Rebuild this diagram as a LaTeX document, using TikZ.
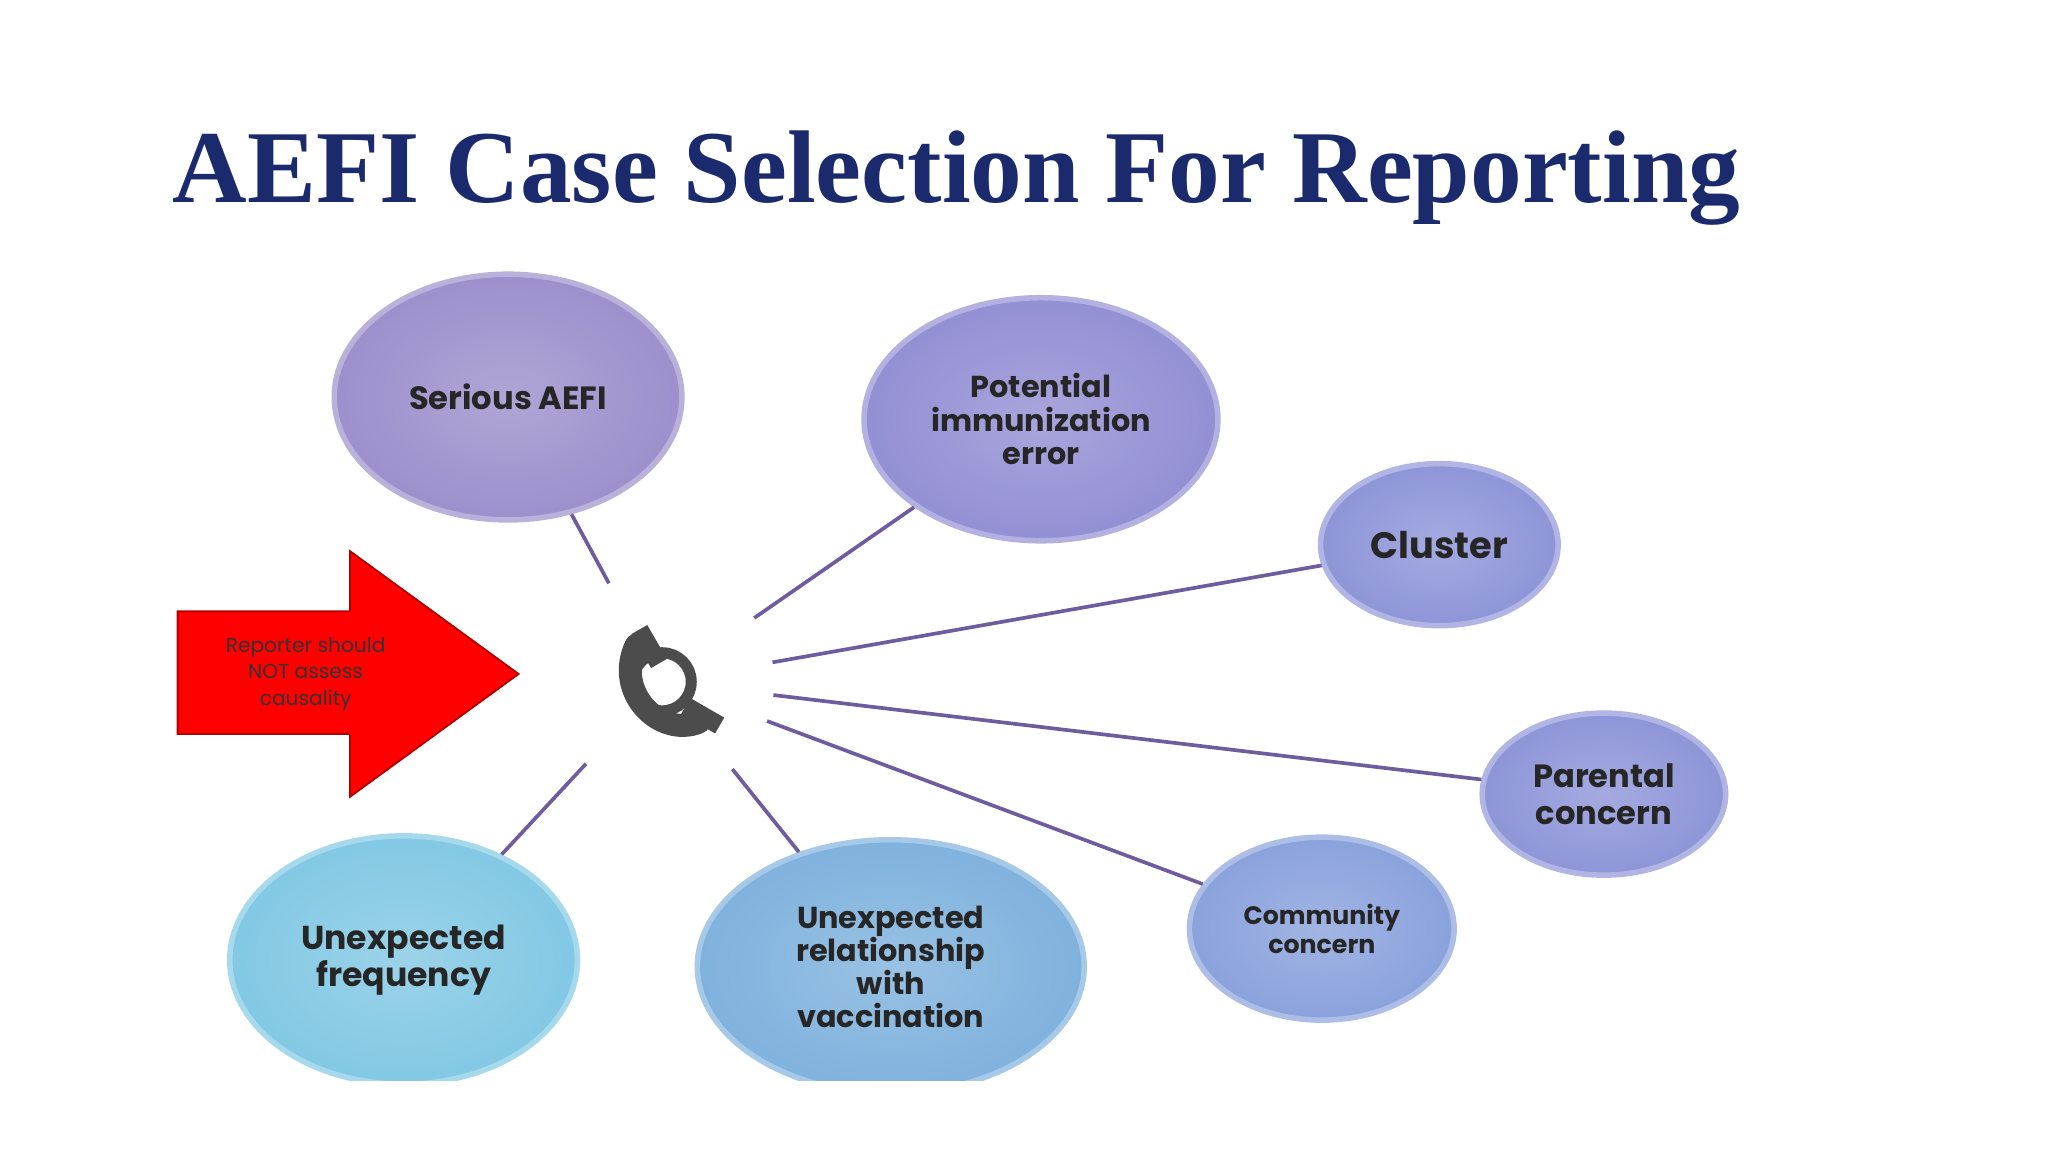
\documentclass[tikz,border=0pt]{standalone}
\usepackage{fontspec}
\setmainfont{Liberation Serif}
\newfontfamily\nodefont{Poppins}
\usetikzlibrary{shapes.geometric}
\definecolor{titleblue}{HTML}{1A2A6C}
\definecolor{linec}{HTML}{6E5C9E}
\definecolor{pa}{HTML}{9D8FCC}
\definecolor{pb}{HTML}{938FD4}
\definecolor{pc}{HTML}{8E95D8}
\definecolor{pd}{HTML}{8AA2DC}
\definecolor{pe}{HTML}{7FB2DD}
\definecolor{pf}{HTML}{82C8E4}
\begin{document}
\begin{tikzpicture}[x=0.01cm,y=-0.01cm,
  bub/.style={ellipse,draw=#1!70!white,line width=1.2pt,inner color=#1!80!white,outer color=#1,text=black!85,font=\nodefont\bfseries,align=center},
  con/.style={draw=linec,line width=0.8pt}]
\useasboundingbox (0,0) rectangle (1568,882);
\fill[white] (0,0) rectangle (1568,882);
\node[font=\bfseries\fontsize{22.5}{26}\selectfont,text=titleblue,anchor=base west] (title) at (120,155) {AEFI Case Selection For Reporting};
% phone
\node[circle,draw=black!70,line width=2.4pt,minimum size=44.5mm*0.1*0.01*100,inner sep=0,fill=white] (phone) at (507,522) {};
\node[circle,minimum size=170*0.1mm,inner sep=0] (ph) at (507,522) {};
\begin{scope}
\draw[black!70,line width=5pt,line cap=round] (487,494) .. controls (470,530) and (505,565) .. (535,553);
\fill[black!70,rotate around={-60:(497,495)}] (482,488) rectangle (512,502);
\fill[black!70,rotate around={-30:(538,548)}] (523,541) rectangle (553,555);
\end{scope}
% bubbles
\begin{scope}
\clip (0,0) rectangle (1568,827);
\node[bub=pa,minimum width=266*0.1mm,minimum height=188*0.1mm,font=\nodefont\bfseries\fontsize{7}{8.5}\selectfont] (serious) at (389,304) {Serious AEFI};
\node[bub=pb,minimum width=266*0.1mm,minimum height=186*0.1mm,font=\nodefont\bfseries\fontsize{6.6}{7.3}\selectfont] (potential) at (797,321) {Potential\\immunization\\error};
\node[bub=pc,minimum width=166*0.1mm,minimum height=124*0.1mm,font=\nodefont\bfseries\fontsize{8}{9}\selectfont] (cluster) at (1102,417) {Cluster};
\node[bub=pc,minimum width=182*0.1mm,minimum height=124*0.1mm,font=\nodefont\bfseries\fontsize{7}{8}\selectfont] (parental) at (1228,608) {Parental\\concern};
\node[bub=pd,minimum width=194*0.1mm,minimum height=140*0.1mm,font=\nodefont\bfseries\fontsize{5.5}{6.3}\selectfont] (community) at (1012,711) {Community\\concern};
\node[bub=pe,minimum width=296*0.1mm,minimum height=194*0.1mm,font=\nodefont\bfseries\fontsize{6.6}{7.2}\selectfont] (relation) at (682,740) {Unexpected\\relationship\\with\\vaccination};
\node[bub=pf,minimum width=266*0.1mm,minimum height=190*0.1mm,font=\nodefont\bfseries\fontsize{7.2}{8}\selectfont] (freq) at (309,735) {Unexpected\\frequency};
\end{scope}
% connectors
\foreach \n in {serious,potential,cluster,parental,community,relation,freq}
  \draw[con] (ph) -- (\n);
% red arrow
\fill[red,draw=red!70!black,line width=0.4pt] (136,468) -- (268,468) -- (268,422) -- (397,516) -- (268,610) -- (268,562) -- (136,562) -- cycle;
\node[font=\nodefont\fontsize{4.4}{5.8}\selectfont,align=center,text=black!80] (reporter) at (234,516) {Reporter should\\NOT assess\\causality};
\end{tikzpicture}
\end{document}
